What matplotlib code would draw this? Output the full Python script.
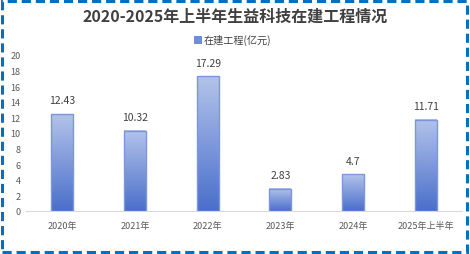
import matplotlib
matplotlib.use("Agg")
import matplotlib.pyplot as plt
import numpy as np
from matplotlib.patches import Rectangle
from matplotlib.colors import LinearSegmentedColormap

plt.rcParams['font.family'] = ['Noto Sans CJK SC', 'DejaVu Sans']

categories = ["2020年", "2021年", "2022年", "2023年", "2024年", "2025年上半年"]
values = [12.43, 10.32, 17.29, 2.83, 4.7, 11.71]
labels = ["12.43", "10.32", "17.29", "2.83", "4.7", "11.71"]
yticks = [0, 2, 4, 6, 8, 10, 12, 14, 16, 18, 20]
title = "2020-2025年上半年生益科技在建工程情况"
legend_label = "在建工程(亿元)"

fig = plt.figure(figsize=(4.7, 2.55), dpi=100)
ax = fig.add_axes([26/470, 43/255, 436/470, 156/255])

cmap = LinearSegmentedColormap.from_list("g", ["#4a6fcb", "#b3c3ea"])
grad = np.linspace(0, 1, 256).reshape(-1, 1)
w = 0.30
x = np.arange(len(categories))
for xi, v, lab in zip(x, values, labels):
    ax.imshow(grad, extent=[xi - w/2, xi + w/2, 0, v], origin='lower',
              cmap=cmap, aspect='auto', zorder=2)
    ax.add_patch(Rectangle((xi - w/2, 0), w, v, facecolor='none',
                           edgecolor='#7b96da', linewidth=1.0, zorder=3))
    ax.text(xi, v + 1.1, lab, ha='center', va='bottom', fontsize=7.5,
            color='#404040')

ax.set_xlim(-0.5, len(categories) - 0.5)
ax.set_ylim(0, 20)
ax.set_yticks(yticks)
ax.set_yticklabels([str(t) for t in yticks], fontsize=6.5, color='#595959')
ax.set_xticks(x)
ax.set_xticklabels(categories, fontsize=6.5, color='#595959')
ax.tick_params(length=0, pad=4)
ax.tick_params(axis='x', pad=7)
for s in ['top', 'right', 'left']:
    ax.spines[s].set_visible(False)
ax.spines['bottom'].set_color('#d9d9d9')

fig.text(0.5, 1 - 17/255, title, ha='center', va='center',
         fontsize=11.5, fontweight='bold', color='#404040')
fig.patches.append(Rectangle((194/470, 1 - 44/255), 7/470, 7/255,
                             transform=fig.transFigure, facecolor='#6f8fd6',
                             edgecolor='#4a6fcb', linewidth=0.5))
fig.text(204/470, 1 - 40/255, legend_label, ha='left', va='center',
         fontsize=7.3, color='#404040')

fig.patches.append(Rectangle((2/470, 2/255), 465/470, 251/255,
                             transform=fig.transFigure, facecolor='none',
                             edgecolor='#0070C0', linewidth=2.2,
                             linestyle=(0, (3, 1.6))))

fig.savefig("out.png", dpi=100)
